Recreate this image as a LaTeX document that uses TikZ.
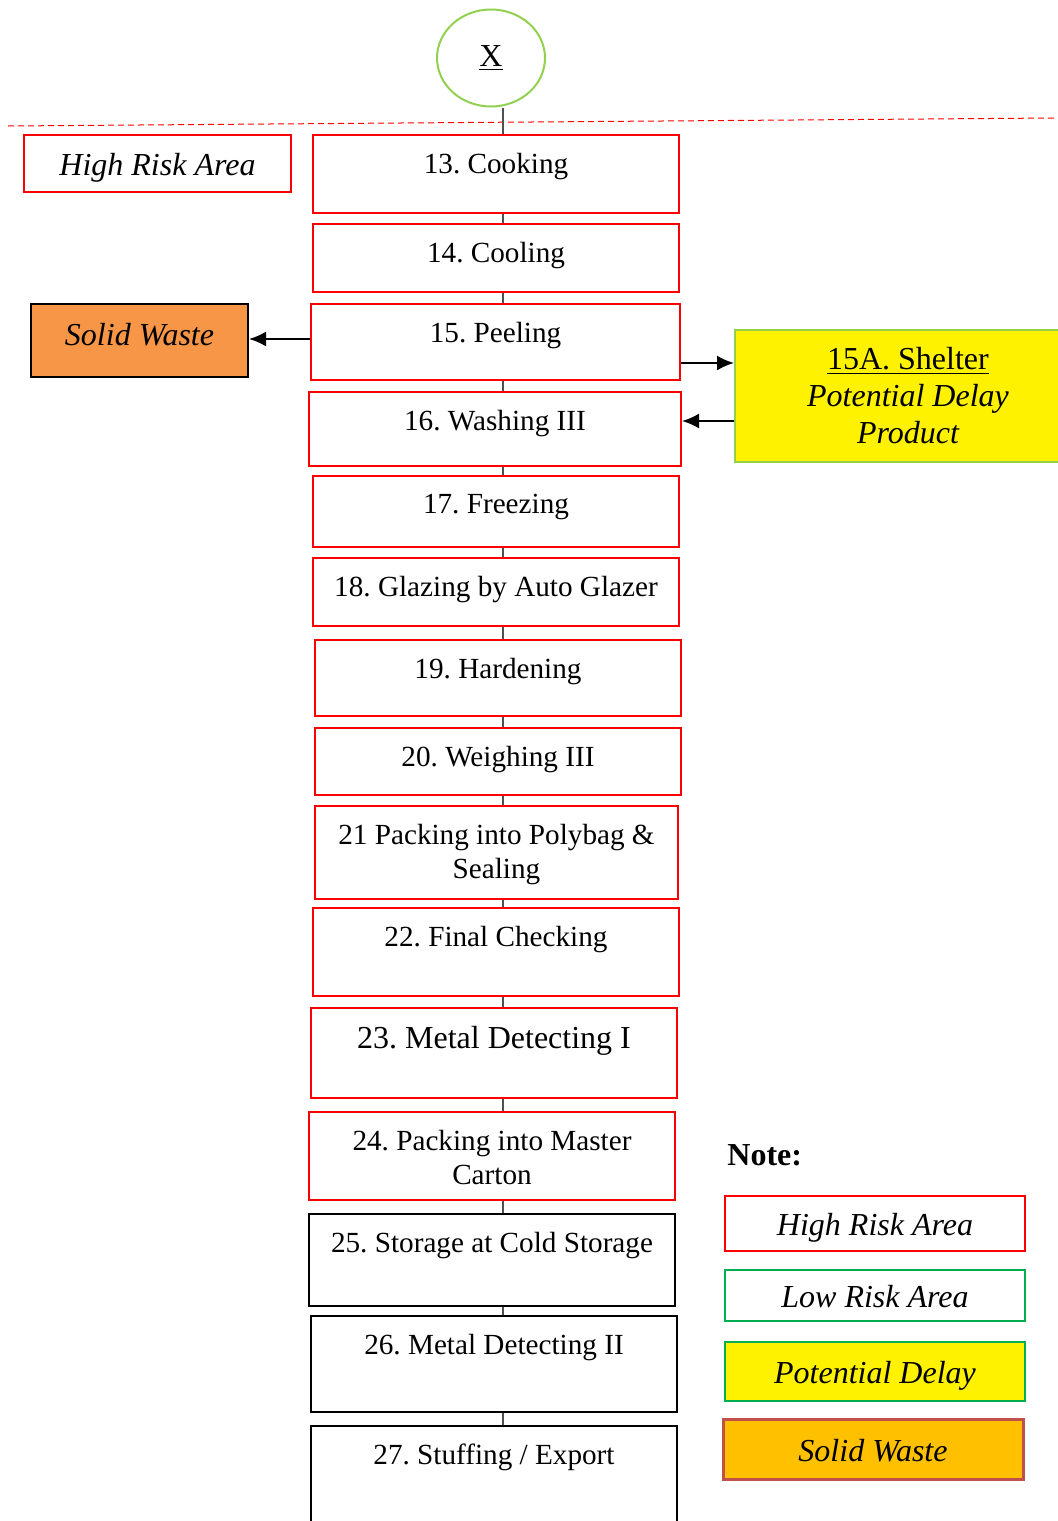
\documentclass[tikz,border=0pt]{standalone}
\usepackage{fontspec}
\setmainfont{Liberation Serif}
\usetikzlibrary{positioning, shapes.geometric, arrows.meta}
\tikzset{>={Latex[length=8.5pt,width=7.5pt]}}
\definecolor{hired}{RGB}{255,0,0}
\definecolor{lightgrn}{RGB}{146,208,80}
\definecolor{lowgrn}{RGB}{0,176,80}
\definecolor{wasteorange}{RGB}{247,150,70}
\definecolor{wasteamber}{RGB}{255,192,0}
\definecolor{wasteedge}{RGB}{192,80,77}
\definecolor{spinegray}{RGB}{80,80,80}
\frenchspacing

\begin{document}
\begin{tikzpicture}[x=0.5pt, y=-0.5pt,
  procbox/.style={draw, line width=1pt, inner sep=0pt},
  proctext/.style={inner sep=0pt, align=center},
  tagbox/.style={draw, line width=1pt, inner sep=0pt, align=center, font=\fontsize{16pt}{18.5pt}\selectfont\itshape},
  tagline/.style={text height=12pt, text depth=0pt},
  link/.style={spinegray, line width=0.7pt},
  flow/.style={->, line width=1pt}]
\useasboundingbox (0,0) rectangle (1057,1521);
% start of this part of the chart
\node[ellipse, draw=lightgrn, line width=1pt, minimum width=54pt, minimum height=48.5pt, inner sep=0pt, font=\fontsize{16pt}{18pt}\selectfont] (x) at (491,58) {\underline{X}};
\draw[hired, dash pattern=on 3pt off 2pt, line width=0.5pt] (8,126) -- (1055,118);
\node[tagbox, tagline, draw=hired, minimum width=133.5pt, minimum height=28.5pt] (area) at (157.5,163.5) {High Risk Area};
% process steps
\foreach \n/\xa/\xb/\ya/\yb/\col/\fs/\txt in {
13/313/679/135/213/hired/14.6/{13. Cooking},
14/313/679/224/292/hired/14.6/{14. Cooling},
15/311/680/304/380/hired/14.6/{15. Peeling},
16/309/681/392/466/hired/14.6/{16. Washing III},
17/313/679/476/547/hired/14.6/{17. Freezing},
18/313/679/558/626/hired/14.6/{18. Glazing by Auto Glazer},
19/315/681/640/716/hired/14.6/{19. Hardening},
20/315/681/728/795/hired/14.6/{20. Weighing III},
21/315/678/806/899/hired/14.6/{21 Packing into Polybag \&\\ Sealing},
22/313/679/908/996/hired/14.6/{22. Final Checking},
23/311/677/1008/1098/hired/16/{23. Metal Detecting I},
24/309/675/1112/1200/hired/14.6/{24. Packing into Master\\ Carton},
25/309/675/1214/1306/black/14.6/{25. Storage at Cold Storage},
26/311/677/1316/1412/black/14.6/{26. Metal Detecting II},
27/311/677/1426/1540/black/14.6/{27. Stuffing / Export}}{
\node[procbox, draw=\col, minimum width={(\xb-\xa)*0.5pt}, minimum height={(\yb-\ya)*0.5pt}] (b\n) at ({(\xa+\xb)/2},{(\ya+\yb)/2}) {};
\node[proctext, font=\fontsize{\fs pt}{17pt}\selectfont, below=9.5pt of b\n.north] (t\n) {\txt};
}
\coordinate (spine) at (503,0);
\draw[link] (spine |- x.south) -- (b13.north -| spine);
\foreach \a/\b in {13/14, 14/15, 15/16, 16/17, 17/18, 18/19, 19/20, 20/21, 21/22, 22/23, 23/24, 24/25, 25/26, 26/27}{
\draw[link] (b\a.south -| spine) -- (b\b.north -| spine);
}
% side branches
\node[tagbox, text height=12pt, text depth=7pt, draw=black, fill=wasteorange, minimum width=108.5pt, minimum height=36.5pt] (waste) at (139.5,340.5) {Solid Waste};
\node[tagbox, draw=lightgrn, fill=yellow, minimum width=173pt, minimum height=66pt] (shelter) at (908,396) {\upshape\underline{15A. Shelter}\\ Potential Delay\\ Product};
\draw[flow] ([yshift=1.5pt]b15.west) -- ([yshift=1.5pt]b15.west -| waste.east);
\draw[flow] ([yshift=-10.5pt]b15.east) -- ([yshift=-10.5pt]b15.east -| shelter.west);
\draw[flow] ([yshift=-12.5pt]shelter.west) -- ([yshift=-12.5pt]shelter.west -| b16.east);
% legend
\node[anchor=west, inner sep=0pt, font=\fontsize{16pt}{18pt}\selectfont\bfseries] (note) at (727,1155) {Note:};
\node[tagbox, tagline, draw=hired, minimum width=150pt, minimum height=27.5pt] (keyhigh) at (875,1223.5) {High Risk Area};
\node[tagbox, tagline, draw=lowgrn, minimum width=150pt, minimum height=25.5pt] (keylow) at (875,1295.5) {Low Risk Area};
\node[tagbox, tagline, draw=lowgrn, fill=yellow, minimum width=150pt, minimum height=29.5pt] (keydelay) at (875,1371.5) {Potential Delay};
\node[tagbox, tagline, draw=wasteedge, line width=1.5pt, fill=wasteamber, minimum width=150pt, minimum height=30pt] (keywaste) at (873,1449) {Solid Waste};
\end{tikzpicture}
\end{document}
